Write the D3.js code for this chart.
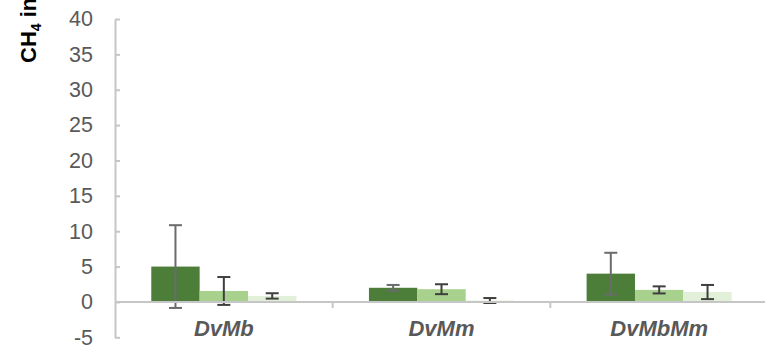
<!DOCTYPE html>
<html>
<head>
<meta charset="utf-8">
<script src="https://cdn.jsdelivr.net/npm/d3@7"></script>
<style>
  html, body { margin: 0; padding: 0; background: #ffffff; }
  svg { display: block; font-family: Arial, "Liberation Sans", sans-serif; }
</style>
</head>
<body>
<svg id="chart" width="765" height="345"></svg>
<script>
// Strains on the category axis
const categories = ["DvMb", "DvMm", "DvMbMm"];
// Three series per strain (mean values and standard deviations)
const seriesNames = ["s1", "s2", "s3"];
const series1 = [5.0, 2.0, 4.0];
const series2 = [1.55, 1.8, 1.7];
const series3 = [0.85, 0.2, 1.4];
const error1 = [5.85, 0.4, 2.95];
const error2 = [1.97, 0.7, 0.5];
const error3 = [0.38, 0.35, 1.0];
const yTicks = [-5, 0, 5, 10, 15, 20, 25, 30, 35, 40];

const seriesValues = [series1, series2, series3];
const seriesErrors = [error1, error2, error3];
const fills = ["#4c7e3a", "#a9d18e", "#e2f0d9"];
const errColors = ["#6b6b6b", "#3f3f3f", "#3f3f3f"];

const svg = d3.select("#chart");

const y = d3.scaleLinear().domain([-5, 40]).range([337.3, 19]);
const x0 = d3.scaleBand().domain(categories).range([115, 768]).padding(0);
const x1 = d3.scaleBand().domain(seriesNames).range([0, x0.bandwidth()])
  .paddingInner(0).paddingOuter(0.75);

// Blue title (sits almost entirely above the visible area)
svg.append("text")
  .attr("x", 275).attr("y", -8.3)
  .attr("text-anchor", "middle")
  .attr("font-size", 40)
  .attr("font-weight", "bold")
  .attr("fill", "#5b9bd5")
  .text("g");

// Bars
const rows = categories.map((c, i) => ({
  cat: c,
  vals: seriesNames.map((s, j) => ({ s, j, v: seriesValues[j][i], e: seriesErrors[j][i] }))
}));

const groups = svg.append("g").selectAll("g").data(rows).join("g")
  .attr("transform", d => `translate(${x0(d.cat)},0)`);

groups.selectAll("rect").data(d => d.vals).join("rect")
  .attr("x", d => x1(d.s))
  .attr("width", x1.bandwidth())
  .attr("y", d => y(Math.max(0, d.v)))
  .attr("height", d => Math.abs(y(d.v) - y(0)))
  .attr("fill", d => fills[d.j]);

// Y axis with ticks pointing into the plot
const yAxis = d3.axisLeft(y).tickValues(yTicks).tickFormat(d => String(d))
  .tickSize(-5).tickSizeOuter(0).tickPadding(22);
const ya = svg.append("g").attr("transform", "translate(115,0)").call(yAxis);
ya.select(".domain").attr("stroke", "#c6c6c6").attr("stroke-width", 2);
ya.selectAll(".tick line").attr("stroke", "#c6c6c6").attr("stroke-width", 2);
ya.selectAll(".tick text")
  .attr("fill", "#595959")
  .attr("font-size", 21.5)
  .attr("font-family", "Arial, 'Liberation Sans', sans-serif");

// Horizontal axis along zero with category divider ticks
const xAxisG = svg.append("g");
xAxisG.append("line")
  .attr("x1", 115).attr("x2", 765)
  .attr("y1", y(0)).attr("y2", y(0))
  .attr("stroke", "#c6c6c6").attr("stroke-width", 2);
xAxisG.selectAll("line.div").data(categories.slice(1)).join("line")
  .attr("class", "div")
  .attr("x1", d => x0(d)).attr("x2", d => x0(d))
  .attr("y1", y(0)).attr("y2", y(0) + 6)
  .attr("stroke", "#c6c6c6").attr("stroke-width", 2);

// Error bars
const capW = 13;
const eb = groups.selectAll("g.err").data(d => d.vals).join("g").attr("class", "err")
  .attr("stroke", d => errColors[d.j]).attr("stroke-width", 2);
eb.append("line")
  .attr("x1", d => x1(d.s) + x1.bandwidth() / 2)
  .attr("x2", d => x1(d.s) + x1.bandwidth() / 2)
  .attr("y1", d => y(d.v + d.e)).attr("y2", d => y(d.v - d.e));
eb.append("line")
  .attr("x1", d => x1(d.s) + x1.bandwidth() / 2 - capW / 2)
  .attr("x2", d => x1(d.s) + x1.bandwidth() / 2 + capW / 2)
  .attr("y1", d => y(d.v + d.e)).attr("y2", d => y(d.v + d.e));
eb.append("line")
  .attr("x1", d => x1(d.s) + x1.bandwidth() / 2 - capW / 2)
  .attr("x2", d => x1(d.s) + x1.bandwidth() / 2 + capW / 2)
  .attr("y1", d => y(d.v - d.e)).attr("y2", d => y(d.v - d.e));

// Category labels
svg.append("g").selectAll("text").data(categories).join("text")
  .attr("x", d => x0(d) + x0.bandwidth() / 2)
  .attr("y", 336)
  .attr("text-anchor", "middle")
  .attr("font-size", 22)
  .attr("font-weight", "bold")
  .attr("font-style", "italic")
  .attr("fill", "#595959")
  .text(d => d);

// Y axis title
const yt = svg.append("text")
  .attr("transform", "translate(36,63) rotate(-90)")
  .attr("text-anchor", "start")
  .attr("font-size", 22)
  .attr("font-weight", "bold")
  .attr("fill", "#000000");
yt.append("tspan").text("CH");
yt.append("tspan").attr("font-size", 14).attr("dy", 5).text("4");
yt.append("tspan").attr("dy", -5).text(" in");
</script>
</body>
</html>
